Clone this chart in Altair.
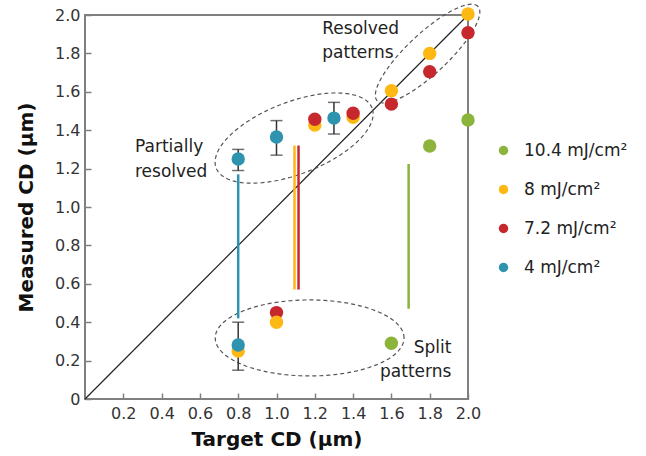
import math
import altair as alt
import pandas as pd

# ---------------- data ----------------
series = ["10.4 mJ/cm²", "8 mJ/cm²", "7.2 mJ/cm²", "4 mJ/cm²"]
colors = ["#8cb33a", "#fdb813", "#c6282e", "#2e93ae"]

green_x = [1.6, 1.8, 2.0]
green_y = [0.29, 1.318, 1.453]
yellow_x = [0.8, 1.0, 1.2, 1.4, 1.6, 1.8, 2.0]
yellow_y = [0.25, 0.40, 1.427, 1.467, 1.606, 1.80, 2.005]
red_x = [1.0, 1.2, 1.4, 1.6, 1.8, 2.0]
red_y = [0.45, 1.457, 1.488, 1.536, 1.705, 1.908]
teal_x = [0.8, 1.0, 1.3, 0.8]
teal_y = [1.25, 1.365, 1.463, 0.281]
teal_err_lo = [1.19, 1.27, 1.38, 0.15]
teal_err_hi = [1.30, 1.45, 1.545, 0.40]
yellow_on_top = [0.8, 1.0, 1.6]   # x where yellow circle covers the red one

# vertical coloured lines: series, x, y bottom, y top
vline_series = ["4 mJ/cm²", "8 mJ/cm²", "7.2 mJ/cm²", "10.4 mJ/cm²"]
vline_x = [0.8, 1.094, 1.115, 1.69]
vline_y0 = [0.42, 0.57, 0.57, 0.47]
vline_y1 = [1.17, 1.32, 1.32, 1.224]

x_ticks = [0.2, 0.4, 0.6, 0.8, 1.0, 1.2, 1.4, 1.6, 1.8, 2.0]
y_ticks = [0, 0.2, 0.4, 0.6, 0.8, 1.0, 1.2, 1.4, 1.6, 1.8, 2.0]

# dashed ellipses: centre x, centre y, semi-major, semi-minor, angle (deg)
ell_names = ["partial", "resolved", "split"]
ell_cx = [1.092, 1.789, 1.173]
ell_cy = [1.359, 1.799, 0.318]
ell_a = [0.436, 0.36, 0.493]
ell_b = [0.188, 0.105, 0.198]
ell_ang = [21, 43, 0]

# annotation text: text, x, y, align
ann_text = ["Resolved", "patterns", "Partially", "resolved", "Split", "patterns"]
ann_x = [1.239, 1.239, 0.261, 0.261, 1.913, 1.913]
ann_y = [1.926, 1.801, 1.313, 1.183, 0.265, 0.14]
ann_align = ["left", "left", "left", "left", "right", "right"]

# ---------------- tables ----------------
rows = []
for x, y in zip(yellow_x, yellow_y):
    rows.append((series[1], x, y, 2 if x in yellow_on_top else 0))
for x, y in zip(red_x, red_y):
    rows.append((series[2], x, y, 1))
for x, y in zip(teal_x, teal_y):
    rows.append((series[3], x, y, 3))
for x, y in zip(green_x, green_y):
    rows.append((series[0], x, y, 3))
pts = pd.DataFrame(rows, columns=["series", "x", "y", "z"])

err = pd.DataFrame({"x": teal_x, "y": teal_err_lo, "hi": teal_err_hi})
caps = pd.DataFrame({"x": teal_x * 2, "y": teal_err_lo + teal_err_hi})
diag = pd.DataFrame({"x": [0, 2], "y": [0, 2]})
ann = pd.DataFrame({"t": ann_text, "x": ann_x, "y": ann_y, "al": ann_align})

erows = []
for n, cx, cy, a, b, ang in zip(ell_names, ell_cx, ell_cy, ell_a, ell_b, ell_ang):
    th = math.radians(ang)
    for i in range(121):
        t = 2 * math.pi * i / 120
        ex = a * math.cos(t)
        ey = b * math.sin(t)
        erows.append((n, i, cx + ex * math.cos(th) - ey * math.sin(th),
                      cy + ex * math.sin(th) + ey * math.cos(th)))
ell = pd.DataFrame(erows, columns=["name", "i", "x", "y"])

# ---------------- chart ----------------
FONT = "DejaVu Sans"
xs = alt.Scale(domain=[0, 2], nice=False, zero=False)
ys = alt.Scale(domain=[0, 2], nice=False, zero=False)
cscale = alt.Scale(domain=series, range=colors)

AX_X = alt.Axis(values=x_ticks, format=".1f", labelPadding=6, titlePadding=8,
                labelOverlap=False, labelFlush=False, labelBound=False)
AX_Y = alt.Axis(values=y_ticks, format=".1f",
                labelExpr="datum.label == '0.0' ? '0' : datum.label",
                labelPadding=5, titlePadding=18,
                labelOverlap=False, labelFlush=False, labelBound=False)


def X(f="x:Q"):
    return alt.X(f, scale=xs, axis=AX_X, title="Target CD (µm)")


def Y(f="y:Q"):
    return alt.Y(f, scale=ys, axis=AX_Y, title="Measured CD (µm)")


base_diag = alt.Chart(diag).mark_line(color="#222222", strokeWidth=1.2).encode(x=X(), y=Y())

ellipses = alt.Chart(ell).mark_line(color="#555555", strokeWidth=1.2, strokeDash=[4, 3]).encode(
    x=X(), y=Y(), detail="name:N", order="i:Q")

vline_layers = []
for s, x, y0, y1 in zip(vline_series, vline_x, vline_y0, vline_y1):
    d = pd.DataFrame({"x": [x], "y": [y0], "y1": [y1]})
    vline_layers.append(
        alt.Chart(d).mark_rule(strokeWidth=2.5, color=colors[series.index(s)]).encode(
            x=X(), y=Y(), y2="y1:Q"))

ebars = alt.Chart(err).mark_rule(color="#333333", strokeWidth=1.5).encode(
    x=X(), y=Y(), y2="hi:Q")

ecaps = alt.Chart(caps).mark_tick(color="#333333", thickness=1.5, size=12, orient="horizontal").encode(
    x=X(), y=Y())

points = alt.Chart(pts).mark_circle(size=180, opacity=1).encode(
    x=X(), y=Y(),
    color=alt.Color("series:N", scale=cscale,
                    legend=alt.Legend(title=None, orient="none", legendX=410, legendY=127,
                                      symbolSize=90, symbolType="circle",
                                      labelFontSize=17, labelFont=FONT, labelColor="#222222",
                                      labelOffset=12, rowPadding=21)),
    order="z:Q")

texts_l = alt.Chart(ann[ann.al == "left"]).mark_text(
    align="left", baseline="middle", font=FONT, fontSize=17, color="#222222").encode(
    x=X(), y=Y(), text="t:N")
texts_r = alt.Chart(ann[ann.al == "right"]).mark_text(
    align="right", baseline="middle", font=FONT, fontSize=17, color="#222222").encode(
    x=X(), y=Y(), text="t:N")

chart = alt.layer(base_diag, ellipses, *vline_layers, ebars, ecaps, points, texts_l, texts_r).properties(
    width=383, height=384,
    autosize=alt.AutoSizeParams(type="none"),
    padding={"left": 85, "top": 15, "right": 178, "bottom": 57},
    background="white",
).configure_view(stroke="#808080", strokeWidth=2).configure_axis(
    domain=False, grid=False, tickColor="#808080", tickWidth=1.5, tickSize=6, offset=-6,
    labelFont=FONT, labelFontSize=16, labelColor="#333333",
    titleFont=FONT, titleFontSize=20, titleFontWeight="bold", titleColor="#111111",
)

chart.save("out.html", embed_options={"renderer": "svg", "actions": False})
